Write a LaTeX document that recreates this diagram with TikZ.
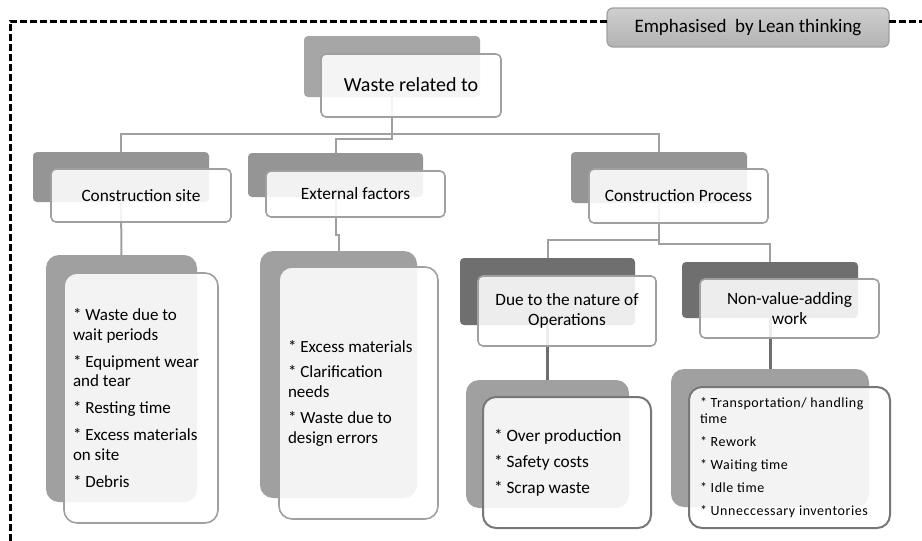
\documentclass[tikz,border=0pt]{standalone}
\usepackage{fontspec}
\setmainfont{Carlito}
\usetikzlibrary{fit,backgrounds}
\definecolor{dkA}{HTML}{A6A6A6}
\definecolor{dkB}{HTML}{959595}
\definecolor{dkC}{HTML}{6F6F6F}
\definecolor{dkD}{HTML}{A0A0A0}
\definecolor{bd}{HTML}{A0A0A0}
\definecolor{bdd}{HTML}{777777}
\definecolor{cn}{HTML}{A0A0A0}
\definecolor{cnd}{HTML}{6E6E6E}
\newcommand\fsz[2]{\fontsize{#1}{#2}\selectfont}
\begin{document}
\begin{tikzpicture}[x=1pt,y=-1pt,
  darkbox/.style={inner sep=0pt,outer sep=0pt,draw=none,rounded corners=4pt},
  wbox/.style={inner sep=0pt,outer sep=0pt,draw=bd,line width=1.6pt,fill=white,fill opacity=0.88,rounded corners=5pt},
  lbox/.style={wbox,rounded corners=13pt},
  lbl/.style={inner sep=0pt,outer sep=0pt,align=center,font=\fsz{17.3}{20}},
  ltext/.style={inner sep=0pt,outer sep=0pt,align=left,anchor=west},
  conn/.style={draw=cn,line width=2pt},
  connd/.style={draw=cnd,line width=3pt},
  border/.style={draw=black,line width=3pt,dash pattern=on 7pt off 3pt}
]
\useasboundingbox (0,0) rectangle (922,541);
\begin{scope}[on background layer]
  \fill[white] (0,0) rectangle (922,541);
\end{scope}

% top label and dashed frame
\node[fit={(607,8)(889,47)},inner sep=0pt,outer sep=0pt,draw=bd,line width=1.2pt,rounded corners=6pt,
      top color=black!19,bottom color=black!30] (emph) {};
\node[lbl,font=\fsz{19}{22}] (emphl) at (emph.center) {Emphasised\ \ by Lean thinking};
\coordinate (tl) at (10,21);
\coordinate (bl) at (10,541);
\coordinate (tr) at (922,21);
\draw[border] (emph.west |- tl) -- (tl) -- (bl);
\draw[border] (emph.east |- tl) -- (tr);

% root
\node[darkbox,fill=dkA,fit={(304,36)(480,97)}] (rootd) {};
\node[wbox,fit={(321,54)(501,117)}] (rootw) {};
\node[lbl,font=\fsz{20}{24}] (rootl) at ([yshift=1pt]rootw.center) {Waste related to};

% level 2
\node[darkbox,fill=dkB,fit={(33,152)(209,202)}] (csd) {};
\node[wbox,fit={(51,169)(231,222)}] (csw) {};
\node[lbl] (csl) at (csw.center) {Construction site};
\node[darkbox,fill=dkB,fit={(248,153)(423,197)}] (extd) {};
\node[wbox,fit={(266,171)(445,217)}] (extw) {};
\node[lbl] (extl) at (extw.center) {External factors};
\node[darkbox,fill=dkB,fit={(571,152)(747,203)}] (cpd) {};
\node[wbox,fit={(589,169)(768,223)}] (cpw) {};
\node[lbl] (cpl) at (cpw.center) {Construction Process};

% construction site list
\node[darkbox,rounded corners=13pt,fill=dkD,fit={(46,255)(197,502)}] (csld) {};
\node[lbox,fit={(64,273)(218,523)}] (cslw) {};
\node[ltext,font=\fsz{17}{19.5}] (cslt) at ([xshift=9pt]cslw.west)
  {* Waste due to\\wait periods\\[7.5pt]* Equipment wear\\and tear\\[7.5pt]* Resting time\\[7.5pt]* Excess materials\\on site\\[7.5pt]* Debris};

% external factors list
\node[darkbox,rounded corners=13pt,fill=dkD,fit={(260,251)(417,498)}] (extld) {};
\node[lbox,fit={(279,267)(438,519)}] (extlw) {};
\node[ltext,font=\fsz{17}{20}] (extlt) at ([xshift=9pt]extlw.west)
  {* Excess materials\\[5.5pt]* Clarification\\needs\\[5.5pt]* Waste due to\\design errors};

% level 3 under construction process
\node[darkbox,fill=dkC,fit={(460,258)(635,325)}] (dued) {};
\node[wbox,fit={(478,276)(656,346)}] (duew) {};
\node[lbl] (duel) at (duew.center) {Due to the nature of\\Operations};
\node[darkbox,fill=dkC,fit={(682,262)(858,318)}] (nvd) {};
\node[wbox,fit={(700,279)(879,338)}] (nvw) {};
\node[lbl] (nvl) at (nvw.center) {Non-value-adding\\work};

% their lists
\node[darkbox,rounded corners=13pt,fill=dkD,fit={(466,380)(629,508)}] (dueld) {};
\node[lbox,draw=bdd,line width=2pt,fit={(483,397)(651,528)}] (duelw) {};
\node[ltext,font=\fsz{17.3}{19.5}] (duelt) at ([xshift=11pt]duelw.west)
  {* Over production\\[6.5pt]* Safety costs\\[6.5pt]* Scrap waste};
\node[darkbox,rounded corners=13pt,fill=dkD,fit={(671,369)(869,507)}] (nvld) {};
\node[lbox,draw=bdd,line width=2pt,fit={(689,387)(890,528)}] (nvlw) {};
\node[ltext,font=\fsz{14}{16.5}\addfontfeature{LetterSpace=4}] (nvlt) at ([xshift=11pt]nvlw.west)
  {* Transportation/ handling\\time\\[6.5pt]* Rework\\[6.5pt]* Waiting time\\[6.5pt]* Idle time\\[6.5pt]* Unneccessary inventories};

% connectors
\begin{scope}[on background layer]
  \draw[conn] (rootd.south) -- ++(0,42) -| (extd.north);
  \draw[conn] (csd.north) -- ++(0,-18) -| (cpd.north);
  \draw[conn] (csd.south) -- (csld.north);
  \draw[conn] (extd.south) -- ++(0,38) -| (extld.north);
  \draw[conn] (cpd.south) -- ++(0,37) -| (dued.north);
  \draw[conn] (cpd.south) -- ++(0,41) -| (nvd.north);
  \draw[connd] (dued.south) -- (dueld.north);
  \draw[connd] (nvd.south) -- (nvd.south |- nvld.north);
\end{scope}
\end{tikzpicture}
\end{document}
